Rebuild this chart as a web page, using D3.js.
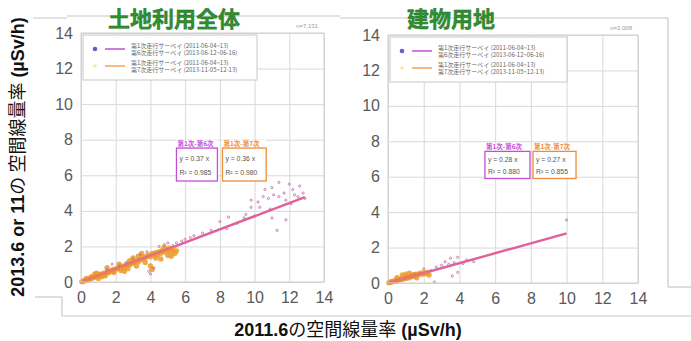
<!DOCTYPE html>
<html>
<head>
<meta charset="utf-8">
<script src="https://cdn.jsdelivr.net/npm/d3@7"></script>
<style>
  body { margin: 0; background: #fff; }
  svg { display: block; }
</style>
</head>
<body>
<svg id="chart" width="691" height="341"></svg>
<script>
// axis ticks shared by both panels
const tickValues = [0, 2, 4, 6, 8, 10, 12, 14];

// panel titles
const panelTitles = ["土地利用全体", "建物用地"];
const panelCounts = ["n=7,131", "n=2,008"];

// legend texts
const legendPurple = ["第1次走行サーベイ (2011-06-04~13)", "第6次走行サーベイ (2013-06-12~06-16)"];
const legendOrange = ["第1次走行サーベイ (2011-06-04~13)", "第7次走行サーベイ (2013-11-05~12-13)"];
const boxTitles = ["第1次-第6次", "第1次-第7次"];

// regression results
const slopesAll = [0.37, 0.36];
const r2All = ["0.985", "0.980"];
const slopesBldg = [0.28, 0.27];
const r2Bldg = ["0.880", "0.855"];

// scatter: 土地利用全体, 第1次-第7次 (orange)
const allOrange = [
  [0.05,0.02],[0.1,0.05],[0.15,0.04],[0.2,0.08],[0.25,0.1],[0.3,0.12],[0.35,0.1],[0.4,0.15],
  [0.45,0.18],[0.5,0.16],[0.55,0.22],[0.6,0.2],[0.7,0.25],[0.75,0.3],[0.8,0.28],[0.9,0.33],
  [1.0,0.35],[1.05,0.42],[1.1,0.38],[1.2,0.45],[1.25,0.4],[1.3,0.5],[1.4,0.48],[1.5,0.55],
  [1.55,0.6],[1.6,0.52],[1.7,0.62],[1.8,0.66],[1.85,0.58],[1.9,0.7],[2.0,0.72],[2.1,0.78],
  [2.2,0.75],[2.3,0.85],[2.4,0.8],[2.5,0.92],[2.6,0.88],[2.7,1.0],[2.8,0.95],[2.9,1.1],
  [3.0,1.05],[3.1,1.15],[3.2,1.2],[3.3,1.12],[3.4,1.3],[3.5,1.25],[3.6,1.4],[3.7,1.35],
  [3.8,1.45],[3.9,1.5],[4.0,1.42],[4.1,1.6],[4.2,1.55],[4.3,1.65],[4.4,1.5],[4.5,1.7],
  [4.6,1.62],[4.7,1.8],[4.8,1.68],[4.9,1.85],[5.0,1.75],[5.1,1.9],[5.2,1.7],[5.3,1.8],
  [5.4,1.6],[5.5,1.75],[3.2,0.9],[2.5,0.6],[4.0,0.9],[4.1,0.7],[3.5,1.6],[2.2,1.0],
  [1.5,0.8],[0.8,0.45],[4.6,1.3],[5.2,1.45],[3.0,1.35],[2.7,0.75],[1.2,0.3],[0.6,0.3],
  [1.0,0.2],[1.4,0.35],[1.9,0.55],[2.3,0.65],[2.8,1.2],[3.3,1.45],[3.7,1.1],[4.3,1.35],
  [4.8,1.95],[5.0,1.5],[0.3,0.2],[0.9,0.5]
];
// scatter: 土地利用全体, 第1次-第6次 (purple)
const allPurple = [
  [1.5,0.7],[1.8,1.0],[2.2,0.9],[2.6,1.1],[3.0,1.3],[3.4,1.55],[3.8,1.7],[3.9,0.6],
  [4.0,0.45],[4.2,0.8],[4.5,2.0],[4.8,2.1],[5.0,2.2],[5.3,2.05],[5.5,2.2],[5.8,2.3],
  [6.0,2.4],[6.3,2.5],[6.5,2.6],[7.0,2.75],[7.5,2.9],[8.0,3.4],[8.4,3.0],[8.5,3.65],
  [9.0,3.3],[9.4,3.6],[9.5,3.8],[9.8,4.2],[10.0,3.7],[10.3,4.2],[10.2,4.5],[10.5,4.8],
  [10.6,5.2],[10.8,4.7],[11.0,5.3],[11.1,4.9],[11.4,4.8],[11.4,5.6],[11.3,2.9],[11.8,3.5],
  [11.7,5.0],[11.8,4.6],[12.0,5.5],[12.2,5.2],[12.3,4.9],[12.5,4.8],[12.6,5.4],[12.8,5.0],
  [12.9,4.7],[11.0,3.6],[10.9,4.1],[12.1,4.4],[9.8,4.6]
];
// scatter: 建物用地, 第1次-第7次 (orange)
const bldgOrange = [
  [0.05,0.02],[0.1,0.04],[0.15,0.05],[0.2,0.06],[0.25,0.08],[0.3,0.1],[0.35,0.09],[0.4,0.12],
  [0.45,0.15],[0.5,0.13],[0.55,0.18],[0.6,0.17],[0.65,0.2],[0.7,0.22],[0.75,0.19],[0.8,0.25],
  [0.85,0.28],[0.9,0.24],[0.95,0.3],[1.0,0.32],[1.05,0.27],[1.1,0.35],[1.15,0.38],[1.2,0.3],
  [1.25,0.4],[1.3,0.42],[1.35,0.36],[1.4,0.45],[1.5,0.48],[1.55,0.4],[1.6,0.5],[1.7,0.46],
  [1.8,0.55],[1.9,0.5],[2.0,0.58],[2.1,0.52],[2.2,0.6],[0.8,0.45],[1.0,0.5],[1.2,0.55],
  [0.5,0.3],[1.6,0.3],[2.3,0.45]
];
// scatter: 建物用地, 第1次-第6次 (purple)
const bldgPurple = [
  [0.5,0.15],[1.0,0.3],[1.5,0.45],[1.8,0.55],[2.0,0.8],[2.4,0.7],[2.7,0.9],[3.0,1.0],
  [3.2,1.2],[3.4,1.05],[3.5,1.4],[3.7,1.15],[3.9,1.45],[4.2,1.1],[4.4,1.3],[3.9,0.6],
  [3.6,0.4],[2.6,0.05],[10.0,3.55],[4.8,1.2]
];

const colors = {
  purplePt: '#b86aa8',
  orangePt: '#eb9a2c',
  fitLine: '#e0609a',
  orangeLine: '#f08a3c',
  legendPurple: '#c24fd6',
  legendOrange: '#f4a35a',
  grid: '#d9d9d9',
  tick: '#595959',
  title: '#2f8f2f',
  frame: '#c8c8c8'
};

const svg = d3.select("#chart");

// faint picture frames of the slide
const frameLines = [
  [[33, 18], [67, 18]], [[67, 16], [340, 16]], [[340, 18], [668, 18]],
  [[668, 18], [668, 287]], [[668, 287], [691, 287]],
  [[35, 297], [62, 297]], [[62, 297], [62, 316]], [[62, 316], [691, 316]]
];
svg.selectAll("line.frame")
  .data(frameLines)
  .enter().append("line")
  .attr("class", "frame")
  .attr("x1", d => d[0][0]).attr("y1", d => d[0][1])
  .attr("x2", d => d[1][0]).attr("y2", d => d[1][1])
  .attr("stroke", colors.frame)
  .attr("stroke-width", 1.2);

function drawPanel(p) {
  const x = d3.scaleLinear().domain([0, 14]).range([p.left, p.right]);
  const y = d3.scaleLinear().domain([0, 14]).range([p.bottom, p.top]);
  const g = svg.append("g");

  g.append("rect")
    .attr("x", p.left).attr("y", p.top)
    .attr("width", p.right - p.left).attr("height", p.bottom - p.top)
    .attr("fill", "#fff");

  // grid
  g.append("g")
    .attr("transform", `translate(0,${p.bottom})`)
    .call(d3.axisBottom(x).tickValues(tickValues).tickSize(-(p.bottom - p.top)).tickFormat(""))
    .call(a => a.select(".domain").remove())
    .call(a => a.selectAll("line").attr("stroke", colors.grid));
  g.append("g")
    .attr("transform", `translate(${p.left},0)`)
    .call(d3.axisLeft(y).tickValues(tickValues).tickSize(-(p.right - p.left)).tickFormat(""))
    .call(a => a.select(".domain").remove())
    .call(a => a.selectAll("line").attr("stroke", colors.grid));

  // tick labels
  g.append("g")
    .attr("transform", `translate(0,${p.bottom + 6})`)
    .call(d3.axisBottom(x).tickValues(tickValues).tickSize(0).tickPadding(4))
    .call(a => a.select(".domain").remove())
    .call(a => a.selectAll("text")
      .attr("font-family", "Liberation Sans, Arial, sans-serif")
      .attr("font-size", 16).attr("fill", colors.tick));
  g.append("g")
    .attr("transform", `translate(${p.left - 4},0)`)
    .call(d3.axisLeft(y).tickValues(tickValues).tickSize(0).tickPadding(4))
    .call(a => a.select(".domain").remove())
    .call(a => a.selectAll("text")
      .attr("font-family", "Liberation Sans, Arial, sans-serif")
      .attr("font-size", 16).attr("fill", colors.tick));

  // count text
  g.append("text")
    .attr("x", p.right - 6).attr("y", p.top - 5)
    .attr("text-anchor", "end")
    .attr("font-family", "Liberation Sans, sans-serif")
    .attr("font-size", 6).attr("fill", "#999")
    .text(p.count);

  // scatter
  g.append("g").selectAll("circle")
    .data(p.orange)
    .enter().append("circle")
    .attr("cx", d => x(d[0])).attr("cy", d => y(d[1]))
    .attr("r", 2.7)
    .attr("fill", colors.orangePt)
    .attr("opacity", 0.85);
  g.append("g").selectAll("circle")
    .data(p.purple)
    .enter().append("circle")
    .attr("cx", d => x(d[0])).attr("cy", d => y(d[1]))
    .attr("r", 1.1)
    .attr("fill", "none")
    .attr("stroke", colors.purplePt)
    .attr("stroke-width", 0.8);

  // regression lines through the origin
  const line = d3.line().x(d => x(d[0])).y(d => y(d[1]));
  const xmaxP = d3.max(p.purple, d => d[0]);
  const xmaxO = d3.max(p.orange, d => d[0]);
  g.append("path")
    .datum([[0, 0], [xmaxP, p.slopes[0] * xmaxP]])
    .attr("d", line).attr("fill", "none")
    .attr("stroke", colors.fitLine).attr("stroke-width", 2.4);
  g.append("path")
    .datum([[0, 0], [xmaxO, p.slopes[1] * xmaxO]])
    .attr("d", line).attr("fill", "none")
    .attr("stroke", colors.orangeLine).attr("stroke-width", 1.6).attr("opacity", 0.7);

  // legend
  const lg = g.append("g").attr("transform", `translate(${p.left + 2},${p.top + 2})`);
  lg.append("rect")
    .attr("width", p.legendW).attr("height", 45)
    .attr("fill", "#fff").attr("stroke", "#c8c8c8");
  const entries = [
    { dot: '#6a5acd', dotR: 2.3, line: colors.legendPurple, texts: legendPurple, yy: 14 },
    { dot: '#fbe6a8', dotR: 1.8, line: colors.legendOrange, texts: legendOrange, yy: 31 }
  ];
  entries.forEach(e => {
    lg.append("circle").attr("cx", 12).attr("cy", e.yy).attr("r", e.dotR).attr("fill", e.dot);
    lg.append("line").attr("x1", 22).attr("x2", 42).attr("y1", e.yy).attr("y2", e.yy)
      .attr("stroke", e.line).attr("stroke-width", 1.5);
    e.texts.forEach((t, i) => {
      lg.append("text")
        .attr("x", 48).attr("y", e.yy - 1.5 + i * 7.6)
        .attr("font-family", "Noto Sans CJK JP, sans-serif")
        .attr("font-size", 6).attr("fill", "#666")
        .text(t);
    });
  });

  // equation boxes
  const boxes = [
    { x0: p.boxX[0], x1: p.boxX[1], color: '#c24fd6', title: boxTitles[0], slope: p.slopes[0], r2: p.r2[0] },
    { x0: p.boxX[2], x1: p.boxX[3], color: '#ec8c3c', title: boxTitles[1], slope: p.slopes[1], r2: p.r2[1] }
  ];
  boxes.forEach(b => {
    const bx = x(b.x0), bw = x(b.x1) - x(b.x0);
    const by = y(p.boxY[0]), bh = y(p.boxY[1]) - y(p.boxY[0]);
    g.append("rect").attr("x", bx).attr("y", by - 8).attr("width", bw).attr("height", 7).attr("fill", "#fff");
    g.append("text").attr("x", bx + 1).attr("y", by - 2)
      .attr("font-family", "Noto Sans CJK JP, sans-serif").attr("font-size", 6.5)
      .attr("fill", b.color).attr("font-weight", "bold").text(b.title);
    g.append("rect").attr("x", bx).attr("y", by).attr("width", bw).attr("height", bh)
      .attr("fill", "#fff").attr("stroke", b.color).attr("stroke-width", 1.3);
    g.append("text").attr("x", bx + 3).attr("y", by + bh * 0.38)
      .attr("font-family", "Liberation Sans, sans-serif").attr("font-size", 6.8).attr("fill", "#555")
      .text(`y = ${b.slope.toFixed(2)} x`);
    g.append("text").attr("x", bx + 3).attr("y", by + bh * 0.82)
      .attr("font-family", "Liberation Sans, sans-serif").attr("font-size", 6.8).attr("fill", "#555")
      .text(`R² = ${b.r2}`);
  });

  // plot border
  g.append("rect")
    .attr("x", p.left).attr("y", p.top)
    .attr("width", p.right - p.left).attr("height", p.bottom - p.top)
    .attr("fill", "none").attr("stroke", "#cfcfcf");

  // title
  svg.append("text")
    .attr("x", p.titleX).attr("y", 27)
    .attr("text-anchor", "middle")
    .attr("font-family", "Noto Sans CJK JP, sans-serif")
    .attr("font-weight", "bold").attr("font-size", 22)
    .attr("fill", colors.title)
    .attr("stroke", "#1f6f1f").attr("stroke-width", 0.4)
    .text(p.title);
}

drawPanel({
  left: 81, right: 324, top: 33, bottom: 282,
  orange: allOrange, purple: allPurple, slopes: slopesAll, r2: r2All,
  count: panelCounts[0], title: panelTitles[0], titleX: 174,
  legendW: 174, boxX: [5.5, 7.86, 8.15, 10.67], boxY: [7.53, 5.68]
});
drawPanel({
  left: 388, right: 638, top: 35, bottom: 283,
  orange: bldgOrange, purple: bldgPurple, slopes: slopesBldg, r2: r2Bldg,
  count: panelCounts[1], title: panelTitles[1], titleX: 451,
  legendW: 177, boxX: [5.43, 7.95, 8.12, 10.53], boxY: [7.43, 5.9]
});

// axis titles
const yLab = svg.append("text")
  .attr("transform", "translate(24,157) rotate(-90)")
  .attr("text-anchor", "middle")
  .attr("font-size", 18).attr("fill", "#111");
yLab.append("tspan").attr("font-family", "Liberation Sans, Arial, sans-serif").attr("font-weight", "bold").text("2013.6 or 11");
yLab.append("tspan").attr("font-family", "Noto Sans CJK JP, sans-serif").text("の 空間線量率");
yLab.append("tspan").attr("font-family", "Liberation Sans, Arial, sans-serif").attr("font-weight", "bold").text(" (µSv/h)");

const xLab = svg.append("text")
  .attr("x", 348).attr("y", 336)
  .attr("text-anchor", "middle")
  .attr("font-size", 18).attr("fill", "#111");
xLab.append("tspan").attr("font-family", "Liberation Sans, Arial, sans-serif").attr("font-weight", "bold").text("2011.6");
xLab.append("tspan").attr("font-family", "Noto Sans CJK JP, sans-serif").text("の空間線量率");
xLab.append("tspan").attr("font-family", "Liberation Sans, Arial, sans-serif").attr("font-weight", "bold").text(" (µSv/h)");
</script>
</body>
</html>
